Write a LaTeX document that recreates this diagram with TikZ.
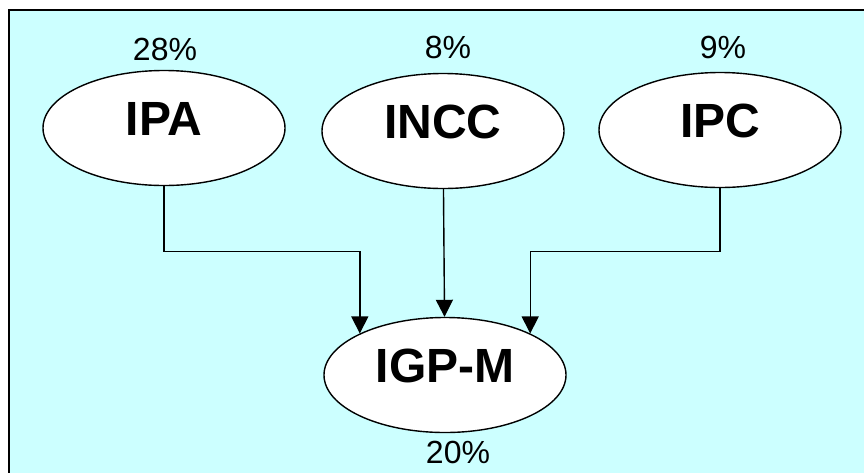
\documentclass[tikz,border=0pt]{standalone}
\usepackage{fontspec}
\setmainfont{Liberation Sans}
\usetikzlibrary{arrows.meta,positioning,shapes.geometric}
\definecolor{Sky}{HTML}{CCFFFF}
\tikzset{
  idx/.style={ellipse,draw=black,line width=1.4pt,fill=white,minimum width=242pt,minimum height=115pt,inner sep=0pt,text depth=18pt,font=\fontsize{48}{48}\selectfont\bfseries},
  pct/.style={inner sep=0pt,font=\fontsize{32}{32}\selectfont},
  arrow/.style={-{Triangle[length=17pt,width=17pt]},line width=1.4pt,draw=black}
}
\begin{document}
\begin{tikzpicture}[x=1pt,y=-1pt]
\useasboundingbox (0,0) rectangle (864,472);
\fill[white] (0,0) rectangle (864,472);
\draw[line width=1.5pt,fill=Sky] (9,10) rectangle (880,490);
\node[idx] (IPA) at (164,128) {IPA};
\node[idx] (INCC) at (443,131) {INCC};
\node[idx] (IPC) at (720,130) {IPC};
\node[idx] (IGPM) at (445,375) {IGP-M};
\node[pct] (pIPA) at (165,49) {28\%};
\node[pct] (pINCC) at (448,47) {8\%};
\node[pct] (pIPC) at (723,47) {9\%};
\node[pct] (pIGPM) at (458,452) {20\%};
\draw[arrow] (IPA.south) -- ++(0,65) -| (IGPM.154.5);
\draw[arrow] (INCC) -- (IGPM);
\draw[arrow] (IPC.south) -- ++(0,63) -| (IGPM.26.6);
\end{tikzpicture}
\end{document}
